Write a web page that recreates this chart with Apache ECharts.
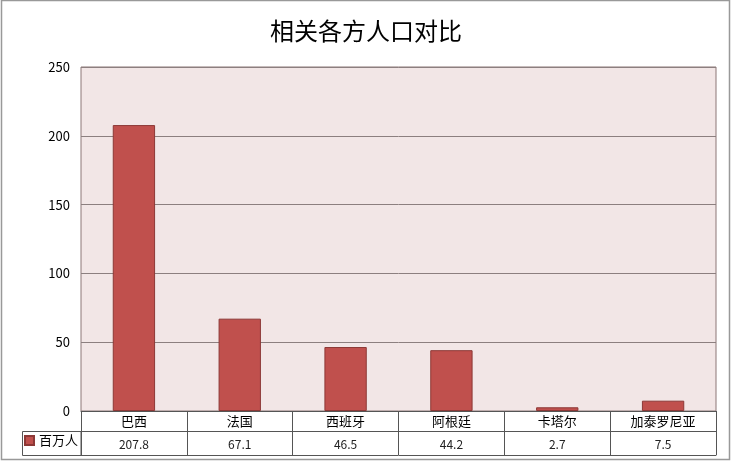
<!DOCTYPE html>
<html lang="zh">
<head>
    <meta charset="utf-8">
    <title>相关各方人口对比</title>
    <script src="https://cdn.jsdelivr.net/npm/echarts@6/dist/echarts.min.js"></script>
    <style>
        html, body {margin: 0; padding: 0; background: #fff;}
        #main {width: 732px; height: 463px;}
    </style>
</head>
<body>
<div id="main"></div>
<script>
    // 数据
    var categories = ['巴西', '法国', '西班牙', '阿根廷', '卡塔尔', '加泰罗尼亚'];
    var population = [207.8, 67.1, 46.5, 44.2, 2.7, 7.5];
    var seriesName = '百万人';

    var font = '"Noto Sans CJK SC", "DejaVu Sans", sans-serif';
    var tableLine = '#555';

    var myChart = echarts.init(document.getElementById('main'));

    var option = {
        animation: false,
        backgroundColor: '#fff',
        title: {
            text: '相关各方人口对比',
            left: 'center',
            top: 14,
            textStyle: {fontFamily: font, fontSize: 24, fontWeight: 'normal', color: '#000'}
        },
        legend: {
            data: [seriesName],
            left: 24,
            top: 434,
            padding: 0,
            itemWidth: 9,
            itemHeight: 9,
            itemGap: 4,
            icon: 'rect',
            textStyle: {fontFamily: font, fontSize: 13, color: '#000'}
        },
        grid: {
            left: 81,
            right: 16,
            top: 67,
            bottom: 52,
            show: true,
            backgroundColor: '#f2e6e6',
            borderColor: '#8c7777',
            borderWidth: 1
        },
        xAxis: [
            {
                type: 'category',
                data: categories,
                position: 'bottom',
                axisLine: {show: true, lineStyle: {color: tableLine}},
                axisTick: {show: true, length: 44, lineStyle: {color: tableLine}},
                axisLabel: {fontFamily: font, fontSize: 13, color: '#000', margin: 4}
            },
            {
                type: 'category',
                data: population.map(function (v) { return v.toFixed(1); }),
                position: 'bottom',
                offset: 20,
                axisLine: {show: true, lineStyle: {color: tableLine}},
                axisTick: {show: false},
                axisLabel: {fontFamily: font, fontSize: 12, color: '#222', margin: 7}
            },
            {
                type: 'category',
                data: categories,
                position: 'bottom',
                offset: 44,
                axisLine: {show: true, lineStyle: {color: tableLine}},
                axisTick: {show: false},
                axisLabel: {show: false}
            }
        ],
        yAxis: {
            type: 'value',
            min: 0,
            max: 250,
            interval: 50,
            axisLine: {show: false},
            axisTick: {show: false},
            axisLabel: {fontFamily: font, fontSize: 13, color: '#000', margin: 11},
            splitLine: {lineStyle: {color: '#8c7f7f'}}
        },
        graphic: [
            {
                type: 'rect',
                shape: {x: 22.5, y: 431.5, width: 58.5, height: 24},
                style: {fill: 'none', stroke: tableLine, lineWidth: 1}
            },
            {
                type: 'rect',
                shape: {x: 1.5, y: 0.5, width: 728, height: 459},
                style: {fill: 'none', stroke: '#999', lineWidth: 1.5}
            }
        ],
        series: [
            {
                name: seriesName,
                type: 'bar',
                data: population,
                barWidth: '40%',
                itemStyle: {color: '#c0504d', borderColor: '#8c3836', borderWidth: 1}
            }
        ]
    };

    myChart.setOption(option);
</script>
</body>
</html>
